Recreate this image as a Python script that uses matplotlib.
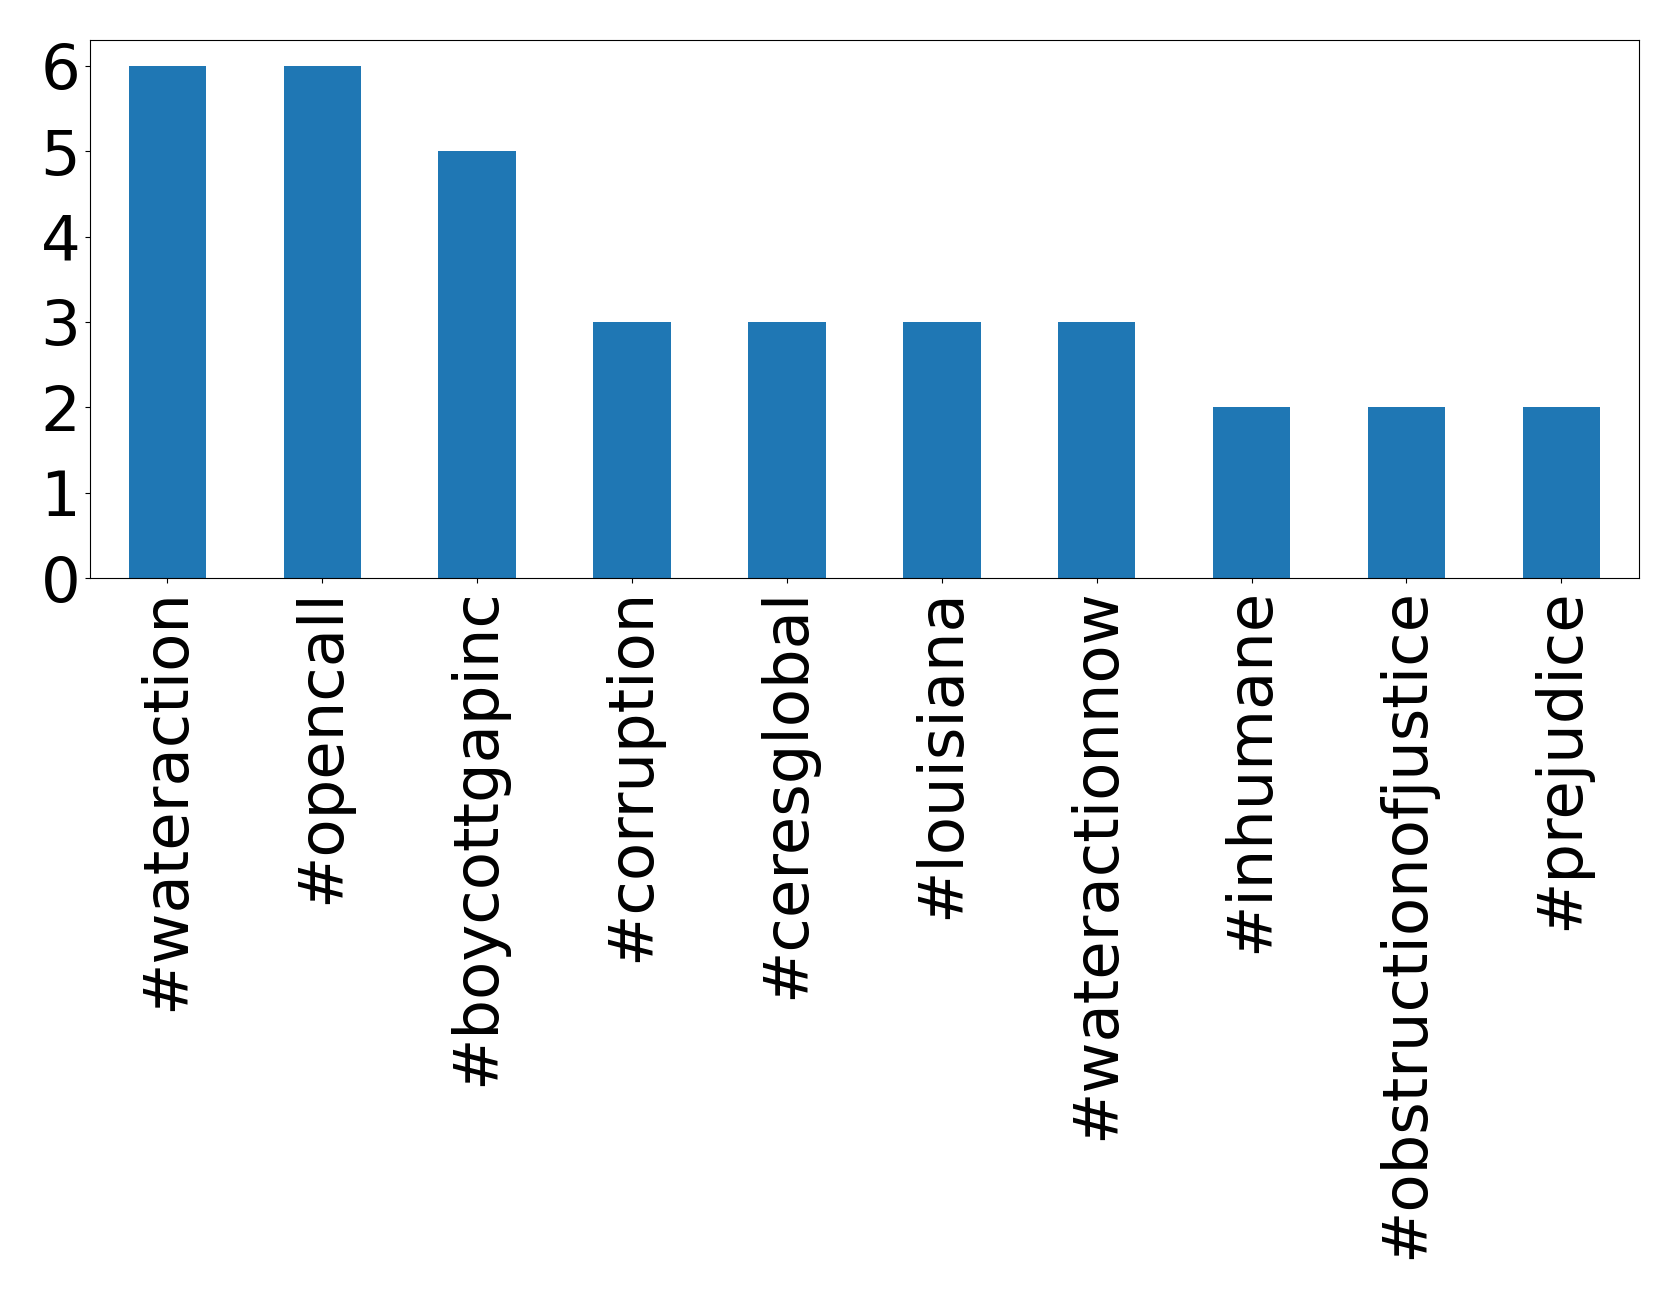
import matplotlib
matplotlib.use("Agg")
import matplotlib.pyplot as plt
import numpy as np

tags = ["#wateraction", "#opencall", "#boycottgapinc", "#corruption", "#ceresglobal",
        "#louisiana", "#wateractionnow", "#inhumane", "#obstructionofjustice", "#prejudice"]
counts = [6, 6, 5, 3, 3, 3, 3, 2, 2, 2]

fig = plt.figure(figsize=(16.79, 12.99), dpi=100)
ax = fig.add_axes([0.0536, 0.555, 0.9224, 0.414])
x = np.arange(len(tags))
ax.bar(x, counts, width=0.5, color="#1f77b4")
ax.set_xlim(-0.5, len(tags) - 0.5)
ax.set_ylim(0, 6.3)
ax.set_xticks(x)
ax.set_xticklabels(tags, rotation=90, fontsize=45)
ax.set_yticks(range(7))
ax.tick_params(axis="y", labelsize=45)
fig.savefig("out.png", dpi=100)
